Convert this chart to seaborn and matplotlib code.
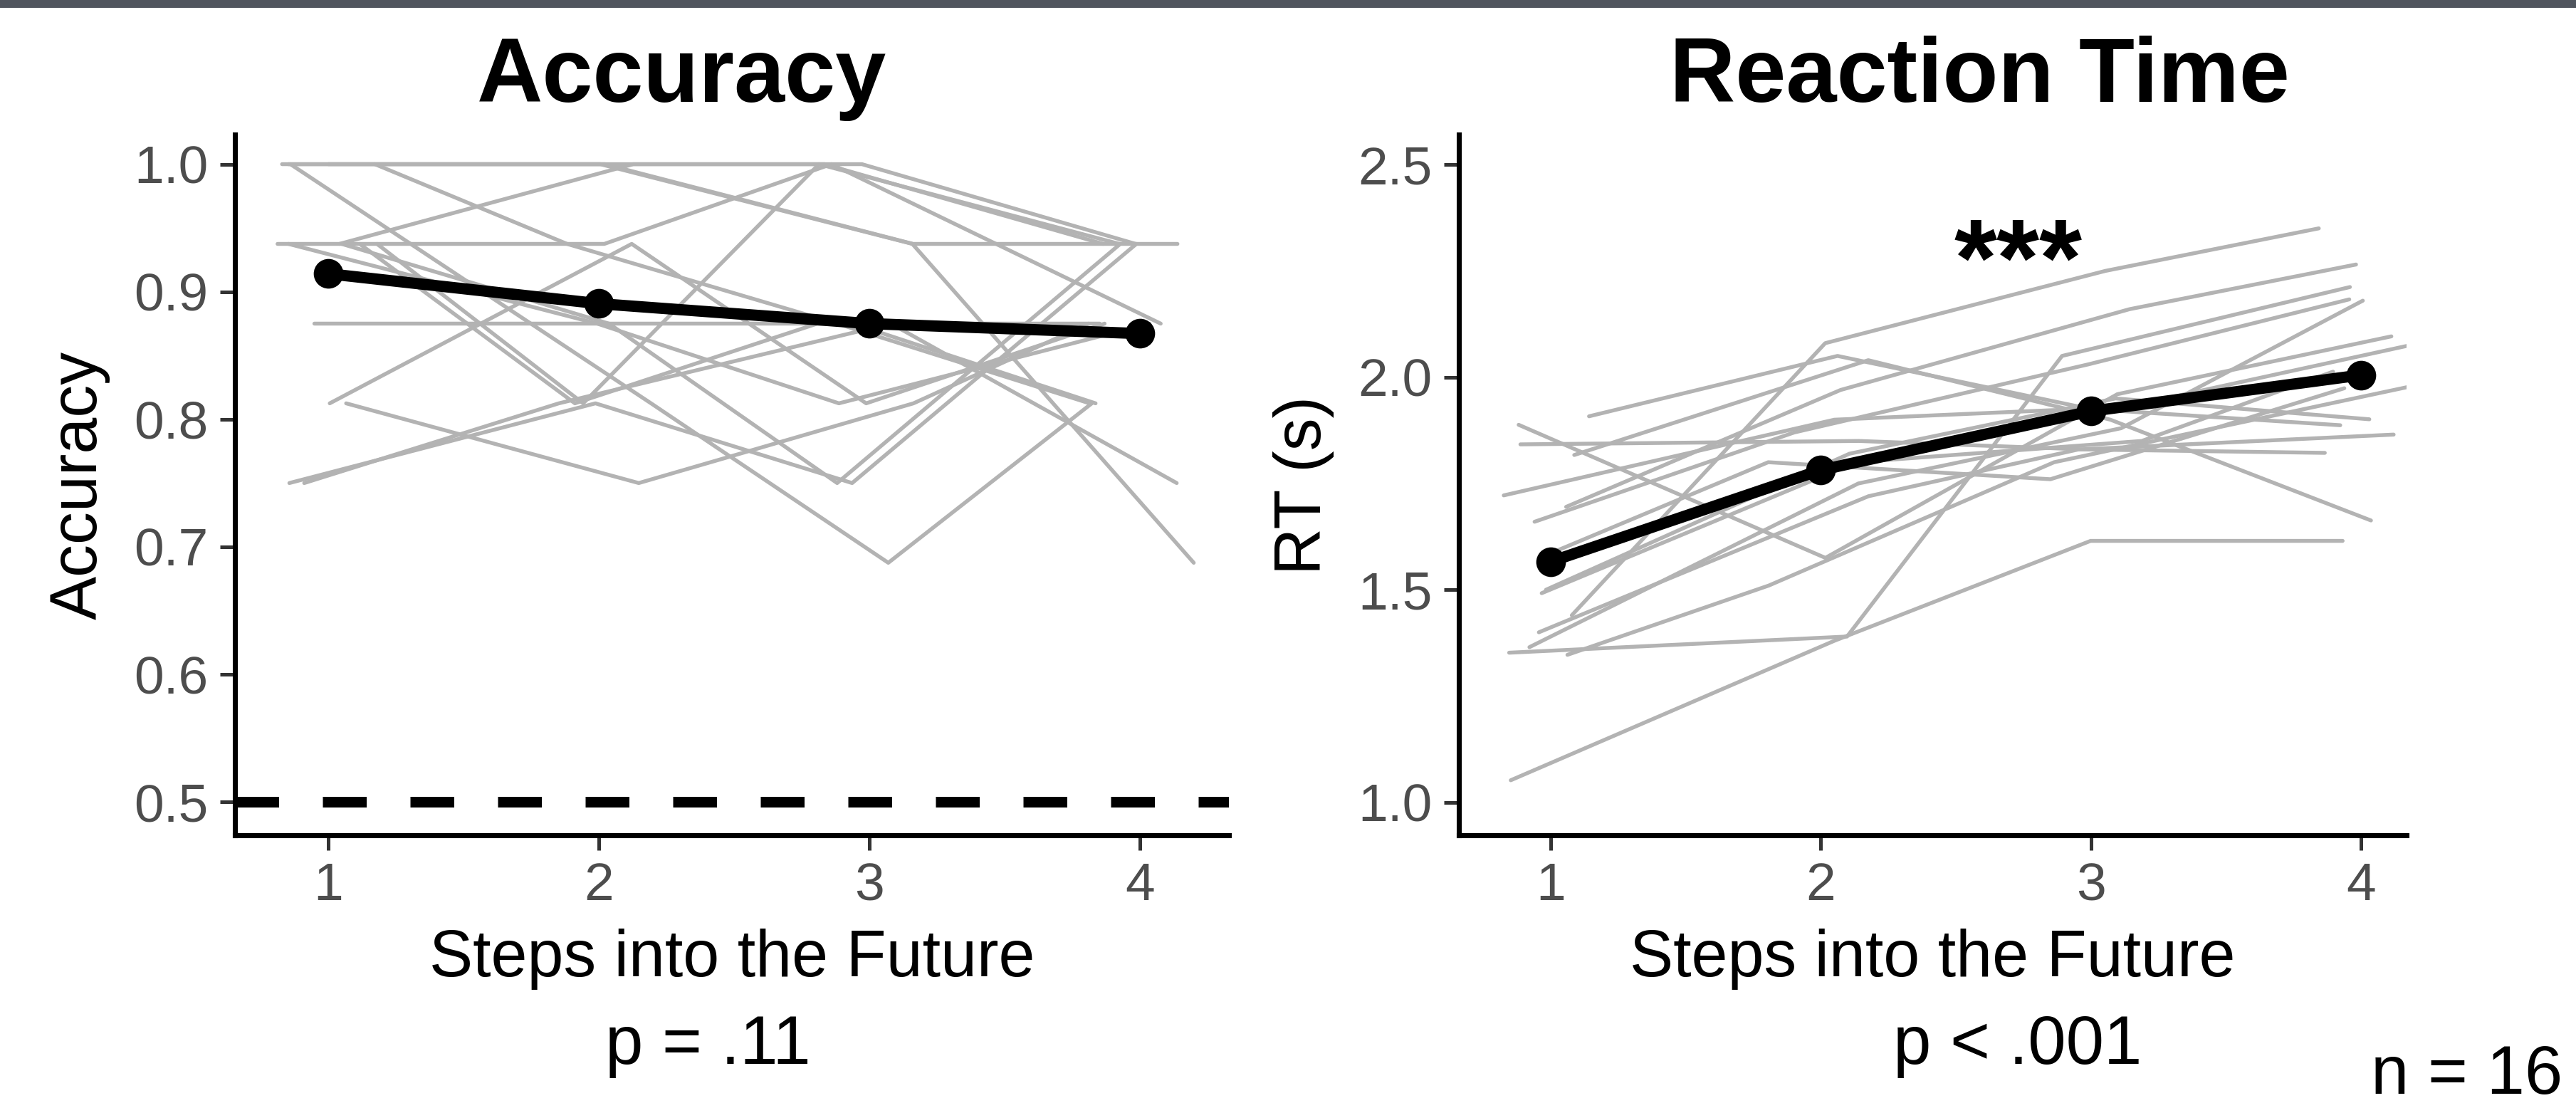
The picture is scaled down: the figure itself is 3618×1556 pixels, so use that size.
"""
Accuracy and reaction time by steps into the future
"""
import numpy as np
import pandas as pd
import matplotlib
matplotlib.use('Agg')
import matplotlib.pyplot as plt
from matplotlib.patches import Rectangle
import seaborn as sns

steps = [1, 2, 3, 4]

# accuracy per participant (16 participants, multiples of 1/16)
acc_step1 = [1.0, 1.0, 0.9375, 0.9375, 1.0, 1.0, 1.0, 0.9375,
             0.9375, 0.9375, 0.875, 0.8125, 0.8125, 0.75, 0.75, 0.9375]
acc_step2 = [1.0, 1.0, 1.0, 0.9375, 0.8125, 0.9375, 1.0, 0.875,
             0.8125, 0.875, 0.875, 0.9375, 0.75, 0.8125, 0.8125, 0.8125]
acc_step3 = [1.0, 0.9375, 1.0, 1.0, 0.6875, 0.875, 0.9375, 0.8125,
             1.0, 0.75, 0.875, 0.8125, 0.8125, 0.875, 0.75, 0.875]
acc_step4 = [0.9375, 0.6875, 0.9375, 0.875, 0.8125, 0.8125, 0.9375, 0.875,
             0.9375, 0.9375, 0.8125, 0.875, 0.875, 0.75, 0.9375, 0.875]

# reaction time per participant (s)
rt_step1 = [1.44, 1.695, 1.052, 1.352, 1.347, 1.908, 1.888, 1.842,
            1.817, 1.583, 1.492, 1.66, 1.722, 1.5, 1.365, 1.40]
rt_step2 = [2.08, 1.97, 1.38, 1.39, 1.51, 2.05, 1.575, 1.85,
            2.04, 1.80, 1.80, 1.87, 1.90, 1.82, 1.75, 1.72]
rt_step3 = [2.25, 2.16, 1.615, 2.05, 1.80, 1.925, 1.96, 1.83,
            1.90, 1.76, 1.85, 2.03, 1.93, 1.95, 1.88, 1.83]
rt_step4 = [2.35, 2.265, 1.615, 2.212, 1.98, 1.887, 2.096, 1.822,
            1.663, 1.974, 2.013, 2.183, 2.074, 1.901, 2.18, 1.865]

acc_ticks = [0.5, 0.6, 0.7, 0.8, 0.9, 1.0]
rt_ticks = [1.0, 1.5, 2.0, 2.5]
chance = 0.5

x_label = 'Steps into the Future'
n_label = 'n = 16'

GREY = '#b3b3b3'
TICK_GREY = '#4d4d4d'


def long_format(columns, name, seed):
    """

    """
    rows = []
    for step, values in zip(steps, columns):
        for subj, v in enumerate(values):
            rows.append({'subject': subj, 'step': step, name: v})
    data = pd.DataFrame(rows)

    #horizontal jitter like position_jitter(width=.2)
    rng = np.random.default_rng(seed)
    data['x'] = data['step'] + rng.uniform(-0.2, 0.2, len(data))

    return data


def panel(ax, data, col, ticks, ylim, xlim, ylabel):
    """

    """
    sns.lineplot(data=data, x='x', y=col, units='subject', estimator=None,
                 color=GREY, linewidth=1.3, ax=ax, legend=False)

    means = data.groupby('step', as_index=False)[col].mean()
    sns.lineplot(data=means, x='step', y=col, color='black', linewidth=3.8,
                 marker='o', markersize=10, markeredgewidth=0, ax=ax)

    ax.set_xlim(xlim)
    ax.set_ylim(ylim)
    ax.set_xticks(steps)
    ax.set_xticklabels([str(s) for s in steps])
    ax.set_yticks(ticks)
    ax.set_yticklabels(['{:.1f}'.format(t) for t in ticks])

    ax.set_xlabel(x_label, fontsize=22, labelpad=6, color='black')
    ax.set_ylabel(ylabel, fontsize=22, labelpad=8, color='black')

    sns.despine(ax=ax)
    for side in ['left', 'bottom']:
        ax.spines[side].set_linewidth(1.7)
        ax.spines[side].set_color('black')
    ax.tick_params(length=5, width=1.2, color='#333333', labelcolor=TICK_GREY,
                   labelsize=18, pad=4)


if __name__ == '__main__':

    sns.set_theme(style='ticks')
    plt.rcParams['font.family'] = ['Liberation Sans', 'DejaVu Sans']
    plt.rcParams['text.color'] = 'black'

    acc = long_format([acc_step1, acc_step2, acc_step3, acc_step4], 'acc', 11)
    rt = long_format([rt_step1, rt_step2, rt_step3, rt_step4], 'rt', 23)

    fig = plt.figure(figsize=(12.06, 5.1867), dpi=300)
    fig.patch.set_facecolor('white')

    ax1 = fig.add_axes([0.0912, 0.2463, 0.3858, 0.632])
    ax2 = fig.add_axes([0.5663, 0.2463, 0.368, 0.632])

    ax1.axhline(chance, color='black', linewidth=3.6, dashes=(4.1, 4.1), zorder=1)

    panel(ax1, acc, 'acc', acc_ticks, (0.474, 1.023), (0.654, 4.328), 'Accuracy')
    panel(ax2, rt, 'rt', rt_ticks, (0.923, 2.57), (0.659, 4.17), 'RT (s)')

    #titles
    fig.text(0.2647, 0.908, 'Accuracy', ha='center', va='baseline',
             fontsize=30.7, fontweight='bold')
    fig.text(0.7685, 0.908, 'Reaction Time', ha='center', va='baseline',
             fontsize=30.7, fontweight='bold')

    #significance and sample size
    ax2.text(2.73, 2.26, '***', ha='center', va='center', fontsize=37,
             fontweight='bold', color='black')
    fig.text(0.2749, 0.040, 'p = .11', ha='center', va='baseline', fontsize=23)
    fig.text(0.7832, 0.040, 'p < .001', ha='center', va='baseline', fontsize=23)
    fig.text(0.9949, 0.013, n_label, ha='right', va='baseline', fontsize=23)

    #dark strip along the top edge
    fig.patches.append(Rectangle((0, 1 - 9 / 1556), 1, 9 / 1556,
                                 transform=fig.transFigure, color='#50555e',
                                 zorder=10))

    fig.savefig('out.png', dpi=300, facecolor='white')
